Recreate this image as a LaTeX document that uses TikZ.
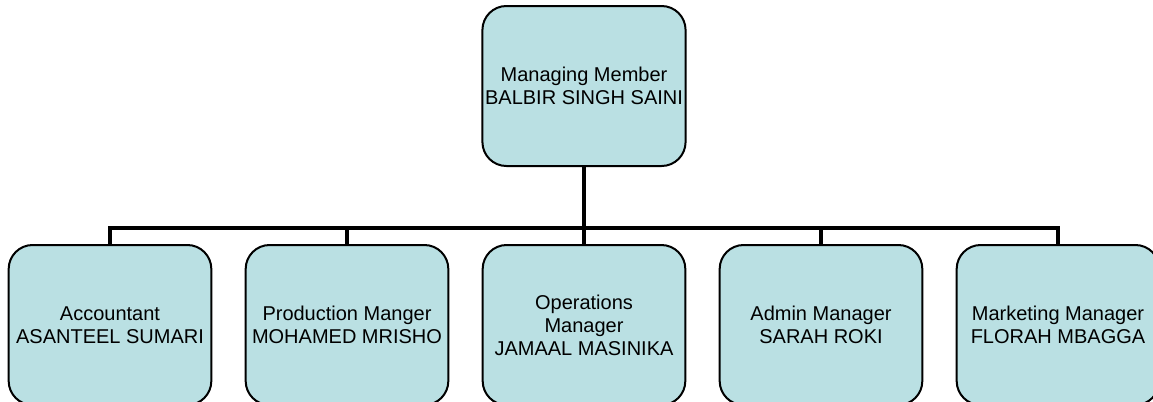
\documentclass[tikz,border=0pt]{standalone}
\usepackage{fontspec}
\setmainfont{Liberation Sans}
\definecolor{boxfill}{RGB}{186,224,227}
\begin{document}
\begin{tikzpicture}[x=0.75pt,y=-0.75pt,
  orgbox/.style={draw=black, line width=1.5pt, fill=boxfill, rounded corners=18pt,
    minimum width=152pt, minimum height=120pt, align=center, inner sep=2pt,
    font=\fontsize{15pt}{17.25pt}\selectfont},
  link/.style={line width=3.6pt}]
\useasboundingbox (0,0) rectangle (1153,401);
\clip (0,0) rectangle (1153,401);
\node[orgbox] (top) at (584,86) {Managing Member\\BALBIR SINGH SAINI};
\node[orgbox] (acc) at (110,325) {Accountant\\ASANTEEL SUMARI};
\node[orgbox] (prod) at (347,325) {Production Manger\\MOHAMED MRISHO};
\node[orgbox] (ops) at (584,325) {Operations\\Manager\\JAMAAL MASINIKA};
\node[orgbox] (adm) at (821,325) {Admin Manager\\SARAH ROKI};
\node[orgbox] (mkt) at (1058,325) {Marketing Manager\\FLORAH MBAGGA};
\coordinate (bus) at (584,228);
\draw[link] (top.south) -- (bus);
\draw[link] (acc.north) |- (bus);
\draw[link] (mkt.north) |- (bus);
\draw[link] (prod.north) -- (prod.north |- bus);
\draw[link] (ops.north) -- (bus);
\draw[link] (adm.north) -- (adm.north |- bus);
\end{tikzpicture}
\end{document}
